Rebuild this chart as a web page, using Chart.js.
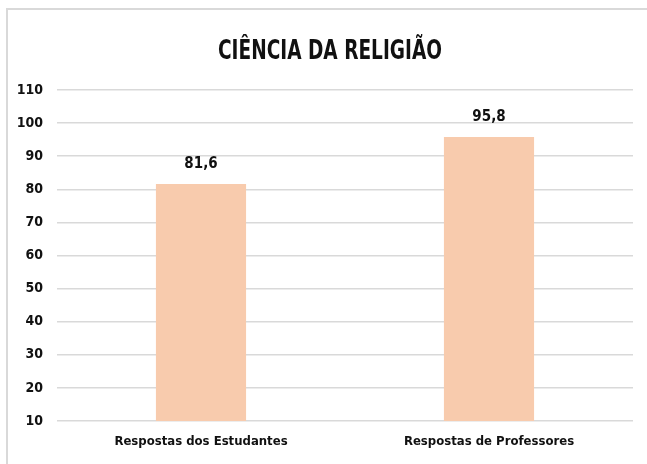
<!DOCTYPE html>
<html>
<head>
<meta charset="utf-8">
<script src="https://cdn.jsdelivr.net/npm/chart.js@4"></script>
<style>
  html, body { margin: 0; padding: 0; background: #fff; overflow: hidden; }
  #wrap { position: relative; width: 647px; height: 464px; overflow: hidden; }
  #frame { position: absolute; left: 6px; top: 8px; width: 800px; height: 600px; border: 2px solid #d9d9d9; box-sizing: border-box; pointer-events: none; }
  canvas { position: absolute; left: 0; top: 0; }
</style>
</head>
<body>
<div id="wrap">
  <canvas id="chart" width="647" height="464"></canvas>
  <div id="frame"></div>
</div>
<script>
const categories = ["Respostas dos Estudantes", "Respostas de Professores"];
const values = [81.6, 95.8];
const yTicks = [10, 20, 30, 40, 50, 60, 70, 80, 90, 100, 110];
const chartTitle = "CIÊNCIA DA RELIGIÃO";

const FONT = "'Liberation Sans Narrow', 'DejaVu Sans Condensed', 'Roboto', sans-serif";

// writes the value above each bar, with a comma as decimal mark
const valueLabels = {
    id: "valueLabels",
    afterDatasetsDraw(chart) {
        const ctx = chart.ctx;
        const meta = chart.getDatasetMeta(0);
        ctx.save();
        ctx.font = "bold 15px " + FONT;
        ctx.fillStyle = "#111";
        ctx.textAlign = "center";
        ctx.textBaseline = "middle";
        meta.data.forEach((bar, i) => {
            ctx.fillText(values[i].toFixed(1).replace(".", ","), bar.x, bar.y - 20);
        });
        ctx.restore();
    }
};

// title drawn by hand so it can be squeezed to the narrow look of the original
const narrowTitle = {
    id: "narrowTitle",
    afterDraw(chart) {
        const ctx = chart.ctx;
        ctx.save();
        ctx.font = "bold 27px " + FONT;
        ctx.fillStyle = "#111";
        ctx.textAlign = "center";
        ctx.textBaseline = "alphabetic";
        const w = ctx.measureText(chartTitle).width;
        const sx = Math.min(1, 224 / w);
        ctx.translate(330, 59);
        ctx.scale(sx, 1);
        ctx.fillText(chartTitle, 0, 0);
        ctx.restore();
    }
};

new Chart(document.getElementById("chart"), {
    type: "bar",
    data: {
        labels: categories,
        datasets: [{
            data: values,
            backgroundColor: "#f8cbad",
            categoryPercentage: 1,
            barPercentage: 0.313
        }]
    },
    options: {
        responsive: false,
        animation: false,
        layout: { padding: { left: 0, right: 14, top: 90, bottom: 0 } },
        plugins: {
            legend: { display: false },
            tooltip: { enabled: false },
            title: { display: false }
        },
        scales: {
            x: {
                grid: { display: false, drawTicks: false },
                border: { display: false },
                ticks: {
                    color: "#111",
                    padding: 13,
                    font: { family: FONT, size: 13, weight: "bold" }
                },
                afterFit(scale) { scale.height = 43; }
            },
            y: {
                min: 10,
                max: 110,
                afterBuildTicks(scale) { scale.ticks = yTicks.map(v => ({ value: v })); },
                grid: { color: "#d9d9d9", lineWidth: 1.5, drawTicks: false },
                border: { display: false },
                ticks: {
                    color: "#111",
                    padding: 14,
                    font: { family: FONT, size: 14, weight: "bold" }
                },
                afterFit(scale) { scale.width = 57; }
            }
        }
    },
    plugins: [valueLabels, narrowTitle]
});
</script>
</body>
</html>
